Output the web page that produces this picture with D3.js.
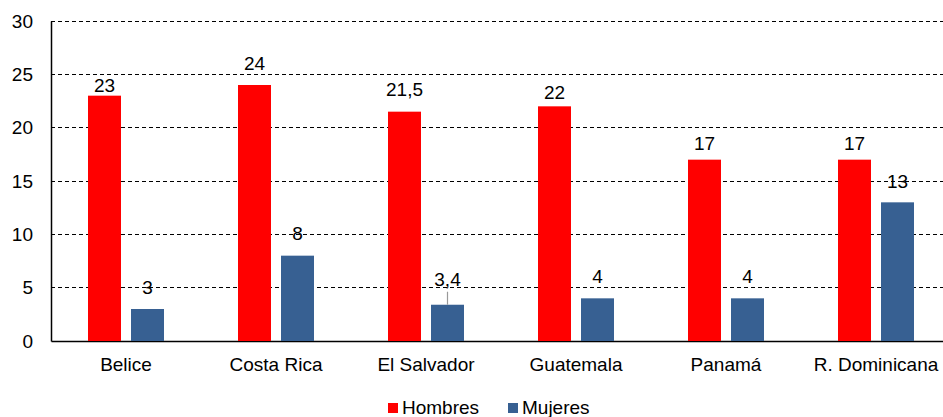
<!DOCTYPE html>
<html><head><meta charset="utf-8">
<script src="https://cdn.jsdelivr.net/npm/d3@7"></script>
<style>body{margin:0;background:#fff}svg{display:block}text{font-family:"Liberation Sans",Arial,sans-serif}</style>
</head><body>
<svg id="c" width="943" height="417"></svg>
<script>
const categories = ["Belice","Costa Rica","El Salvador","Guatemala","Panamá","R. Dominicana"];
const hombres = [23,24,21.5,22,17,17];
const mujeres = [3,8,3.4,4,4,13];
const seriesNames = ["Hombres","Mujeres"];
const yTicks = [0,5,10,15,20,25,30];
// label nudges (pixels above bar top), layout only
const hombresLabelDy = [11,22,23,14,17,17];
const mujeresLabelDy = [22,23,26,22,22,21];

const colors = ["#FF0000","#376092"];
const svg = d3.select("#c");
const x0 = d3.scaleBand().domain(categories).range([51,951]).paddingInner(0).paddingOuter(0);
const x1 = d3.scaleBand().domain(seriesNames).range([37,113]).paddingInner(0.2326).paddingOuter(0);
const y = d3.scaleLinear().domain([0,30]).range([341,21]);
const fmt = v => String(v).replace(".", ",");

// gridlines
svg.append("g").selectAll("line").data(yTicks.filter(t=>t>0)).join("line")
  .attr("x1",51).attr("x2",943).attr("y1",d=>y(d)).attr("y2",d=>y(d))
  .attr("stroke","#000").attr("stroke-width",1).attr("stroke-dasharray","4,3")
  .attr("shape-rendering","crispEdges");

// y axis
const yAxis = d3.axisLeft(y).tickValues(yTicks).tickSize(0).tickPadding(18).tickFormat(d=>d);
const gy = svg.append("g").attr("transform","translate(51,0)").call(yAxis);
gy.select(".domain").attr("stroke","#000").attr("stroke-width",1.5);
gy.selectAll("text").attr("font-size",19).attr("fill","#000").attr("font-family","Liberation Sans, Arial, sans-serif");

// x axis
const xAxis = d3.axisBottom(x0).tickSize(0).tickPadding(17);
const gx = svg.append("g").attr("transform","translate(0,341)").call(xAxis);
gx.select(".domain").attr("stroke","#000").attr("stroke-width",1.5);
gx.selectAll("text").attr("font-size",19).attr("fill","#000").attr("font-family","Liberation Sans, Arial, sans-serif");

const data = categories.map((c,i)=>({c, vals:[
  {s:"Hombres", v:hombres[i], dy:hombresLabelDy[i]},
  {s:"Mujeres", v:mujeres[i], dy:mujeresLabelDy[i]}]}));

const groups = svg.append("g").selectAll("g").data(data).join("g")
  .attr("transform",d=>`translate(${x0(d.c)},0)`);

groups.selectAll("rect").data(d=>d.vals).join("rect")
  .attr("x",d=>x1(d.s)).attr("width",x1.bandwidth())
  .attr("y",d=>y(d.v)).attr("height",d=>y(0)-y(d.v))
  .attr("fill",(d,i)=>colors[i]);

// leader line for 3,4
groups.selectAll("line.lead").data(d=>d.vals.filter(v=>v.dy>=25)).join("line")
  .attr("class","lead")
  .attr("x1",d=>x1(d.s)+x1.bandwidth()/2).attr("x2",d=>x1(d.s)+x1.bandwidth()/2)
  .attr("y1",d=>y(d.v)-13).attr("y2",d=>y(d.v))
  .attr("stroke","#999").attr("stroke-width",1.2);

groups.selectAll("text.lbl").data(d=>d.vals).join("text")
  .attr("class","lbl")
  .attr("x",d=>x1(d.s)+x1.bandwidth()/2)
  .attr("y",d=>y(d.v)-d.dy+7)
  .attr("text-anchor","middle").attr("font-size",19).attr("fill","#000")
  .text(d=>fmt(d.v));

// legend
const lg = svg.append("g");
const legX = [388,508];
seriesNames.forEach((s,i)=>{
  lg.append("rect").attr("x",legX[i]).attr("y",403).attr("width",10).attr("height",10).attr("fill",colors[i]);
  lg.append("text").attr("x",legX[i]+14).attr("y",414).attr("font-size",19).attr("fill","#000").text(s);
});
</script>
</body></html>
